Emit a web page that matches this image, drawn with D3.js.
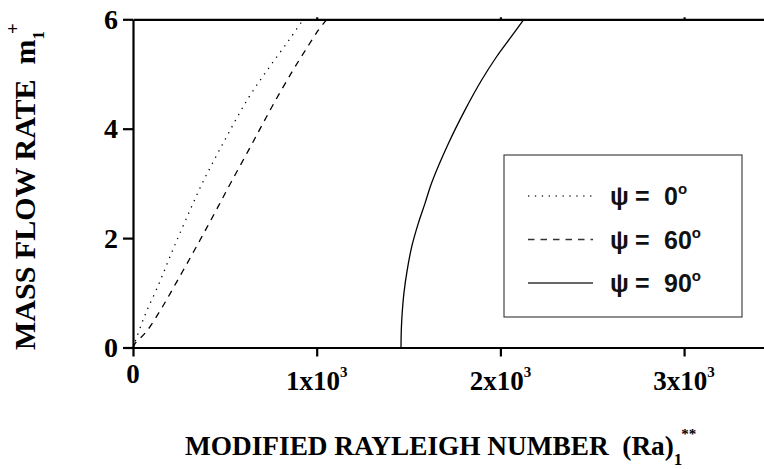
<!DOCTYPE html>
<html>
<head>
<meta charset="utf-8">
<script src="https://cdn.jsdelivr.net/npm/d3@7"></script>
<style>
  body { margin: 0; background: #fff; }
  svg { display: block; }
  text { white-space: pre; }
</style>
</head>
<body>
<svg id="chart" width="764" height="469"></svg>
<script>
// Mass flow rate m1+ against modified Rayleigh number (Ra)1** for three inclinations
const psi0Ra = [0, 11, 65, 138, 211, 283, 374, 501, 628, 737, 845, 927];
const psi0M  = [0, 0.10, 0.59, 1.14, 1.74, 2.30, 2.98, 3.80, 4.56, 5.10, 5.60, 6.0];

const psi60Ra = [0, 11, 75, 156, 238, 320, 392, 464, 537, 628, 700, 773, 864, 936, 1009, 1056];
const psi60M  = [0, 0.07, 0.30, 0.72, 1.20, 1.69, 2.13, 2.58, 3.04, 3.60, 4.05, 4.50, 5.03, 5.42, 5.80, 6.0];

const psi90Ra = [1459, 1460, 1463, 1468, 1475, 1492, 1517, 1553, 1590, 1628, 1717, 1807, 1898, 1980, 2052, 2128];
const psi90M  = [0, 0.25, 0.50, 0.75, 1.0, 1.40, 1.84, 2.27, 2.64, 3.03, 3.73, 4.34, 4.89, 5.32, 5.65, 6.0];

const xTicks = [0, 1000, 2000, 3000];
const xTickMantissa = ["0", "1x10", "2x10", "3x10"];
const xTickExponent = ["", "3", "3", "3"];
const yTicks = [0, 2, 4, 6];
const legendAngles = ["0", "60", "90"];
const legendDash = ["1.3,5.6", "6.5,6", null];

const svg = d3.select("#chart");
const serif = "'Liberation Serif', 'Times New Roman', serif";
const sans = "'Liberation Sans', Arial, sans-serif";

const x = d3.scaleLinear().domain([0, 3435]).range([133, 764]);
const y = d3.scaleLinear().domain([0, 6]).range([347.5, 19.3]);

// Curves
const series = [
  { ra: psi0Ra, m: psi0M, dash: legendDash[0] },
  { ra: psi60Ra, m: psi60M, dash: legendDash[1] },
  { ra: psi90Ra, m: psi90M, dash: legendDash[2] }
];
const line = d3.line()
  .x(d => x(d[0]))
  .y(d => y(d[1]))
  .curve(d3.curveCatmullRom.alpha(0.5));

svg.append("g").selectAll("path")
  .data(series)
  .join("path")
  .attr("d", s => line(s.ra.map((r, i) => [r, s.m[i]])))
  .attr("fill", "none")
  .attr("stroke", "#000")
  .attr("stroke-width", 1.3)
  .attr("stroke-dasharray", s => s.dash);

// Axes
const axisStyle = g => {
  g.selectAll("path, line").attr("stroke", "#000").attr("stroke-width", 2.2);
  g.selectAll("text").remove();
};

svg.append("g")
  .attr("transform", `translate(0,${y(0)})`)
  .call(d3.axisBottom(x).tickValues(xTicks).tickSize(9).tickSizeOuter(0).tickFormat(""))
  .call(axisStyle);

svg.append("g")
  .attr("transform", `translate(0,${y(6)})`)
  .call(d3.axisTop(x).tickValues(xTicks.slice(1)).tickSize(2).tickSizeOuter(0).tickFormat(""))
  .call(axisStyle);

svg.append("g")
  .attr("transform", `translate(${x(0)},0)`)
  .call(d3.axisLeft(y).tickValues(yTicks).tickSize(10).tickSizeOuter(0).tickFormat(""))
  .call(axisStyle);

const serifBold = (sel, size) => sel
  .style("font-family", serif)
  .style("font-weight", "bold")
  .style("font-size", size + "px")
  .attr("fill", "#000");

// Tick labels
svg.append("g").selectAll("text")
  .data(yTicks)
  .join("text")
  .attr("x", x(0) - 15)
  .attr("y", d => y(d) + 9.5)
  .attr("text-anchor", "end")
  .call(serifBold, 28)
  .text(d => d);

const xl = svg.append("g").selectAll("text")
  .data(xTicks)
  .join("text")
  .attr("x", d => x(d))
  .attr("y", (d, i) => i === 0 ? 383 : 390)
  .attr("text-anchor", "middle")
  .call(serifBold, 27);
xl.append("tspan").text((d, i) => xTickMantissa[i]);
xl.append("tspan")
  .style("font-size", "15px")
  .attr("dy", -13)
  .text((d, i) => xTickExponent[i]);

// Axis titles
const xt = svg.append("text")
  .attr("x", 185)
  .attr("y", 455)
  .call(serifBold, 27.3);
xt.append("tspan").text("MODIFIED RAYLEIGH NUMBER  (Ra)");
xt.append("tspan").style("font-size", "17px").attr("dy", 10).text("1");
xt.append("tspan").style("font-size", "15px").attr("dx", -1).attr("dy", -26).text("**");

const yt = svg.append("text")
  .attr("transform", "translate(35,350) rotate(-90)")
  .call(serifBold, 30);
yt.append("tspan").text("MASS FLOW RATE  m");
yt.append("tspan").style("font-size", "17px").attr("dy", 9).text("1");
yt.append("tspan").style("font-size", "19px").attr("dx", -3).attr("dy", -25).text("+");

// Legend
const legend = svg.append("g").attr("transform", "translate(504,155)");
legend.append("rect")
  .attr("width", 238)
  .attr("height", 162)
  .attr("fill", "#fff")
  .attr("stroke", "#333")
  .attr("stroke-width", 1.1);

const rows = legend.selectAll("g.row")
  .data(legendAngles)
  .join("g")
  .attr("class", "row")
  .attr("transform", (d, i) => `translate(0,${41 + i * 43.5})`);

rows.append("line")
  .attr("x1", 24)
  .attr("x2", 89)
  .attr("stroke", "#333")
  .attr("stroke-width", 1.3)
  .attr("stroke-dasharray", (d, i) => legendDash[i]);

const lt = rows.append("text")
  .attr("y", 9)
  .style("font-family", sans)
  .style("font-weight", "bold")
  .style("font-size", "25px")
  .attr("fill", "#111");
lt.append("tspan").attr("x", 106).text("ψ");
lt.append("tspan").attr("x", 131).text("=");
lt.append("tspan").attr("x", 160).text(d => d);
lt.append("tspan").style("font-size", "15px").attr("dy", -11).text("o");
</script>
</body>
</html>
